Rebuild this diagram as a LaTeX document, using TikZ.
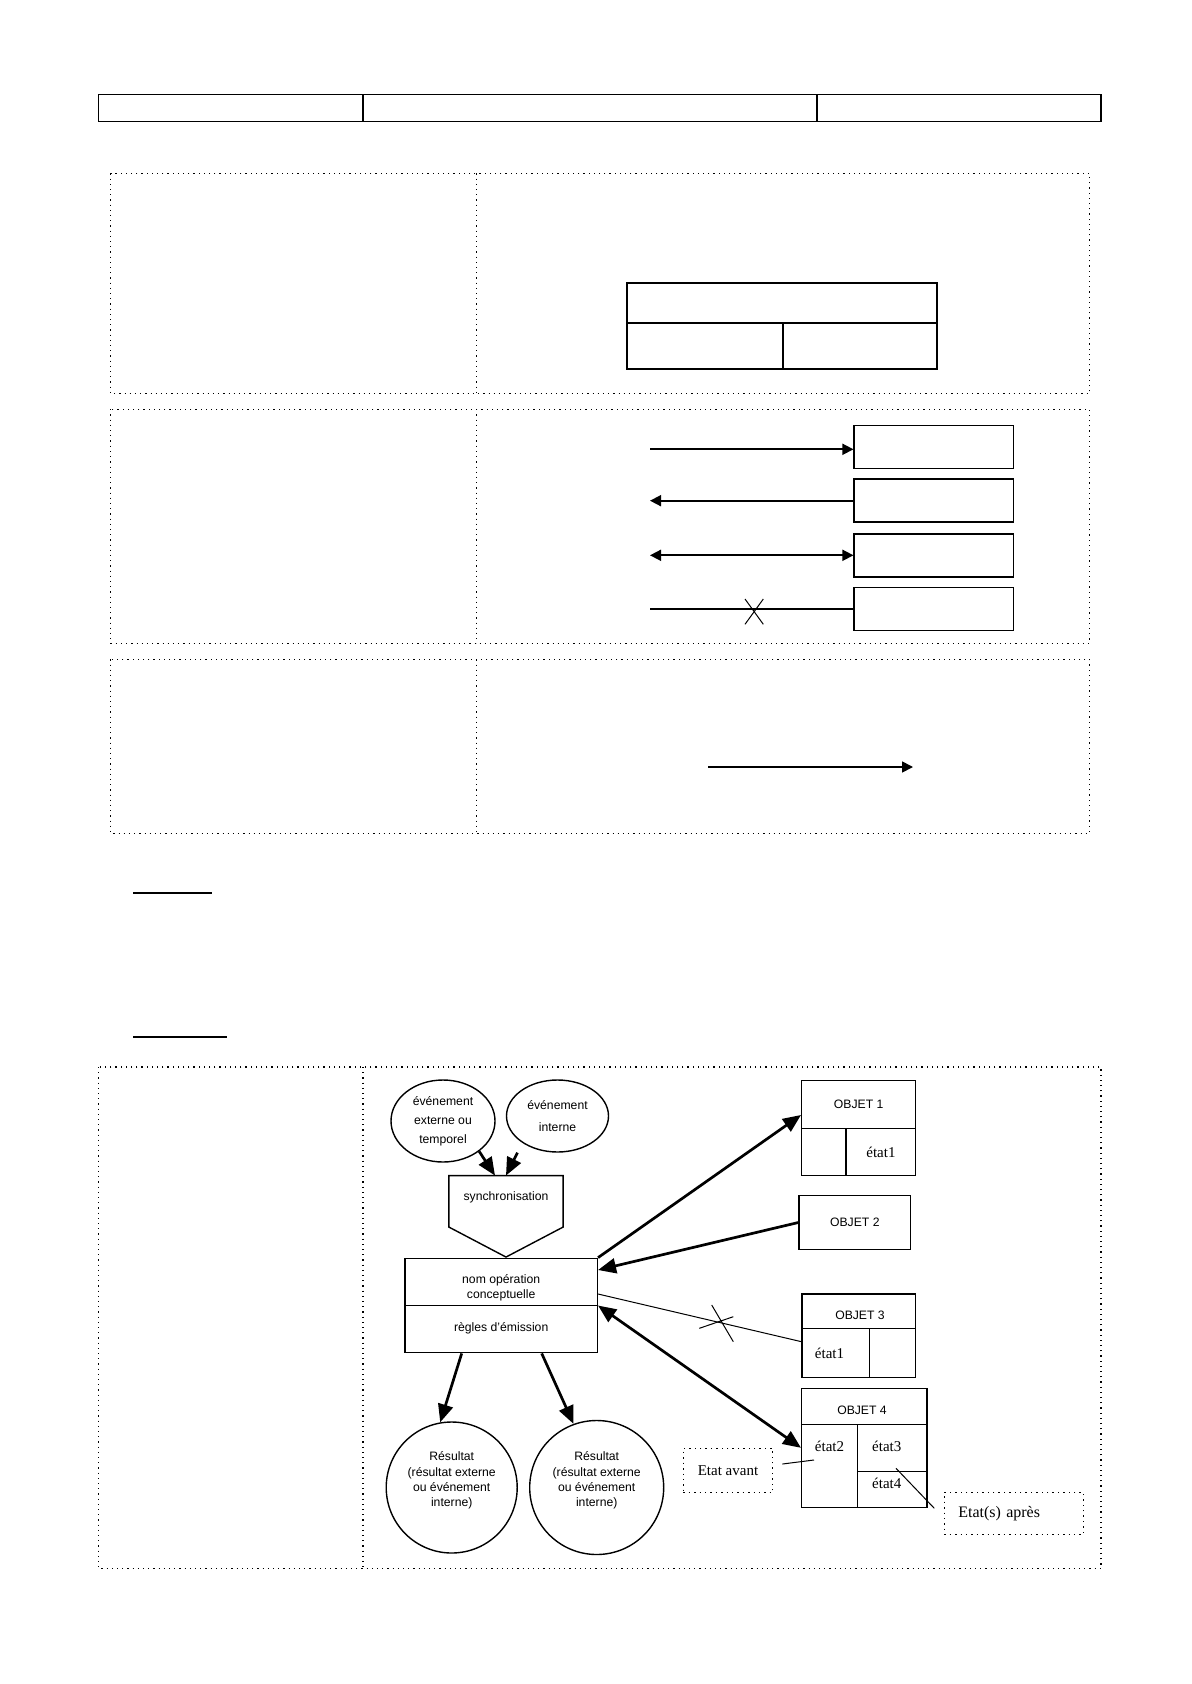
\documentclass[tikz,border=0pt]{standalone}
\usepackage{fontspec}
\setmainfont{Liberation Sans}
\newfontfamily\timesf{Liberation Serif}
\usetikzlibrary{shapes,arrows.meta}
\newcommand{\etatfont}{\timesf\fontsize{7.5}{9}\selectfont}

\begin{document}
\begin{tikzpicture}[x=0.5pt,y=-0.5pt]
	\tikzstyle{every node}=[font=\fontsize{6.1}{7.6}\selectfont, inner sep=0pt, align=center]
	\tikzstyle{cadre}=[dotted, line width=0.6pt]
	\tikzstyle{trait}=[line width=0.7pt]
	\tikzstyle{fin}=[line width=0.5pt]
	\tikzstyle{boite}=[draw, rectangle, line width=0.7pt]
	\tikzstyle{vide}=[draw, rectangle, line width=0.6pt, minimum width=79.65pt, minimum height=21.5pt]
	\tikzstyle{note}=[draw, rectangle, dotted, line width=0.7pt]
	\tikzstyle{fleche}=[line width=1.35pt, -{Triangle[length=9pt,width=7.5pt]}]
	\tikzstyle{doublefleche}=[line width=1.35pt, {Triangle[length=9pt,width=7.5pt]}-{Triangle[length=9pt,width=7.5pt]}]
	\tikzstyle{petitefleche}=[line width=0.85pt, -{Triangle[length=5.5pt,width=5.5pt]}]
	\tikzstyle{petitedouble}=[line width=0.85pt, {Triangle[length=5.5pt,width=5.5pt]}-{Triangle[length=5.5pt,width=5.5pt]}]
	\useasboundingbox (0,0) rectangle (1191,1684);
	\draw[trait] (98.5,94.5) rectangle (1101,121.5);
	\draw[trait] (363,94.5) -- (363,121.5);
	\draw[trait] (817,94.5) -- (817,121.5);
	\draw[cadre] (110.5,173.5) rectangle (1089.5,393.5);
	\draw[cadre] (476.5,173.5) -- (476.5,393.5);
	\draw (781.7,325.7) node[boite, line width=0.9pt, minimum width=155pt, minimum height=43pt] (entite) {};
	\draw[line width=0.9pt] (626.7,323.3) -- (936.7,323.3);
	\draw[line width=0.9pt] (782.7,323.3) -- (782.7,368.7);
	\draw[cadre] (110.5,409.3) rectangle (1089.5,643.3);
	\draw[cadre] (476.5,409.3) -- (476.5,643.3);
	\draw (933.7,446.8) node[vide] (lien1) {};
	\draw (933.7,500.5) node[vide] (lien2) {};
	\draw (933.7,555.5) node[vide] (lien3) {};
	\draw (933.7,609.2) node[vide] (lien4) {};
	\coordinate (d1) at (650,449.3);
	\coordinate (d2) at (650,500.7);
	\coordinate (d3) at (650,555.3);
	\coordinate (d4) at (650,608.7);
	\draw[petitefleche] (d1) to (d1 -| lien1.west);
	\draw[petitefleche] (d2 -| lien2.west) to (d2);
	\draw[petitedouble] (d3) to (d3 -| lien3.west);
	\draw[line width=0.85pt] (d4) to (d4 -| lien4.west);
	\draw[fin] (745,599) -- (763.3,624.3) (763.3,599) -- (745,624.3);
	\draw[cadre] (110.5,659.3) rectangle (1089.5,833.3);
	\draw[cadre] (476.5,659.3) -- (476.5,833.3);
	\coordinate (f1) at (708,767);
	\coordinate (f2) at (913,767);
	\draw[petitefleche] (f1) to (f2);
	\draw[line width=1pt] (133,892.5) -- (212,892.5);
	\draw[line width=1pt] (133,1037) -- (227,1037);
	\draw[cadre] (98.5,1067) rectangle (1101,1568.5);
	\draw[cadre] (363,1067) -- (363,1568.5);
	\draw (443,1121) node[ellipse, draw, line width=0.7pt, minimum width=52pt, minimum height=41pt, font=\fontsize{6.1}{9.5}\selectfont] (ext) {événement\\externe ou\\temporel};
	\draw (557.5,1116) node[ellipse, draw, line width=0.7pt, minimum width=51pt, minimum height=36pt, font=\fontsize{6.1}{11}\selectfont] (int) {événement\\interne};
	\draw (506,1201.3) node[minimum width=56.7pt, minimum height=25.35pt] (sync) {};
	\draw[trait] (sync.south west) -- (sync.north west) -- (sync.north east) -- (sync.south east) -- ([yshift=-15pt]sync.south) -- cycle;
	\draw (506,1197) node (synctexte) {synchronisation};
	\draw[fleche] (ext.-40) to ([xshift=-5.5pt]sync.north);
	\draw[fleche] ([xshift=-20pt]int.south) to (sync.north);
	\draw (501.2,1305.5) node[boite, minimum width=96.15pt, minimum height=47.2pt] (operation) {};
	\draw[trait] (operation.west) -- (operation.east);
	\draw (501.2,1287.5) node (nomop) {nom opération\\conceptuelle};
	\draw (501.2,1328) node (regles) {règles d'émission};
	\draw (451.7,1487.5) node[circle, draw, line width=0.7pt, minimum size=65.5pt] (res1) {};
	\draw (596.7,1487.5) node[circle, draw, line width=0.7pt, minimum size=67pt] (res2) {};
	\draw ([yshift=3.5pt]res1.center) node (res1texte) {Résultat\\(résultat externe\\ou événement\\interne)};
	\draw ([yshift=3.5pt]res2.center) node (res2texte) {Résultat\\(résultat externe\\ou événement\\interne)};
	\draw[fleche] ([xshift=-19.75pt]operation.south) to (res1.100);
	\draw[fleche] ([xshift=20.25pt]operation.south) to (res2.110);
	\draw (858.7,1128.2) node[boite, minimum width=57pt, minimum height=47.5pt] (objet1) {};
	\draw[trait] (objet1.west) -- (objet1.east);
	\draw[trait] (846,1128.2) -- (846,1175.7);
	\draw (858.7,1104.5) node (objet1nom) {OBJET 1};
	\draw (880.9,1152) node[font=\etatfont] (objet1etat) {état1};
	\draw (854.85,1222.5) node[boite, minimum width=55.85pt, minimum height=26.8pt] (objet2) {OBJET 2};
	\draw (858.85,1335.65) node[boite, minimum width=56.85pt, minimum height=41.65pt] (objet3) {};
	\draw[trait] (802,1328.3) -- (915.7,1328.3);
	\draw[trait] (869.3,1328.3) -- (869.3,1377.3);
	\draw (860,1315) node (objet3nom) {OBJET 3};
	\draw (829.5,1353) node[font=\etatfont] (objet3etat) {état1};
	\draw (864.35,1447.8) node[boite, minimum width=62.65pt, minimum height=59.5pt] (objet4) {};
	\draw[trait] (801.7,1424.3) -- (927,1424.3);
	\draw[trait] (857.7,1424.3) -- (857.7,1507.3);
	\draw[trait] (857.7,1471.7) -- (927,1471.7);
	\draw (862,1410) node (objet4nom) {OBJET 4};
	\draw (829.5,1446.7) node[font=\etatfont] (etat2) {état2};
	\draw (886.8,1446.7) node[font=\etatfont] (etat3) {état3};
	\draw (886.8,1483.3) node[font=\etatfont] (etat4) {état4};
	\draw (728,1470.5) node[note, minimum width=44.7pt, minimum height=22.2pt, font=\etatfont] (avant) {Etat avant};
	\draw (1013.8,1513.3) node[note, minimum height=21pt, text width=55.5pt, inner xsep=7pt, align=left, font=\timesf\fontsize{8}{9.6}\selectfont] (apres) {Etat(s) après};
	\draw[fleche] (operation.north east) to ([yshift=6.6pt]objet1.west);
	\draw[fleche] (objet2.west) to ([yshift=17.75pt]operation.east);
	\draw[fin] ([yshift=5.75pt]operation.east) to ([yshift=-3pt]objet3.west);
	\draw[fin] (699.3,1328.3) -- (733.3,1316.7) (711.7,1305) -- (733.3,1341.7);
	\draw[doublefleche] (operation.east) to (objet4.west);
	\draw[fin] ([xshift=4.5pt,yshift=3.25pt]avant.east) to ([xshift=-7.75pt,yshift=-6.65pt]etat2.center);
	\draw[fin] ([xshift=-4.65pt,yshift=2.5pt]apres.west) to ([xshift=4.6pt,yshift=-10.8pt]etat3.center);
\end{tikzpicture}
\end{document}
